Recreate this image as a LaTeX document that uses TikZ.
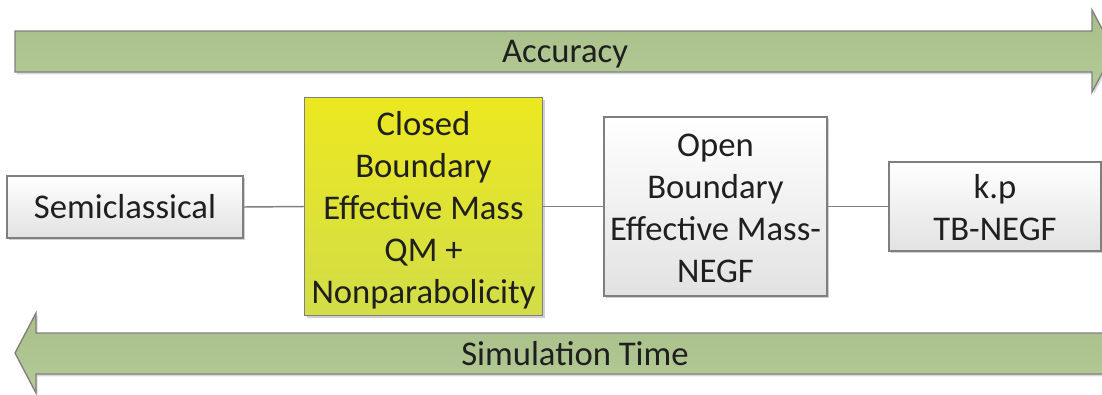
\documentclass[tikz,border=0pt]{standalone}
\usepackage{fontspec}
\setmainfont{Carlito}
\usetikzlibrary{shadows}
\definecolor{edgegray}{HTML}{7F7F7F}
\definecolor{txt}{HTML}{1F1F1F}
\definecolor{greentop}{HTML}{A8BF88}
\definecolor{greenbot}{HTML}{B4CA98}
\definecolor{yeltop}{HTML}{ECE820}
\definecolor{yelbot}{HTML}{D2DD48}
\definecolor{boxbot}{HTML}{E2E2E2}
\tikzset{
  stagebox/.style={draw=edgegray, line width=1pt, top color=white, bottom color=boxbot,
    inner sep=0pt,
    drop shadow={shadow xshift=1.8pt, shadow yshift=-1.8pt, fill=black!18, opacity=1}},
  hilite/.style={stagebox, top color=yeltop, bottom color=yelbot},
  stagetext/.style={align=center, text=txt, font=\fontsize{26}{31.5}\selectfont, inner sep=0pt},
  bigarrow/.style={draw=edgegray, line width=1pt, top color=greentop, bottom color=greenbot,
    drop shadow={shadow xshift=1.2pt, shadow yshift=-1.8pt, fill=black!15, opacity=1}},
  arrowlabel/.style={text=txt, font=\fontsize{26}{31.5}\selectfont, inner sep=0pt},
  link/.style={draw=edgegray, line width=1.1pt}
}
\begin{document}
\begin{tikzpicture}[x=0.75pt, y=-0.75pt]
\useasboundingbox (0,0) rectangle (1102,394);
\clip (0,0) rectangle (1102,394);

% accuracy arrow, pointing right
\path[bigarrow] (15,31) -- (1092,31) -- (1092,10) -- (1114,51) -- (1092,92) -- (1092,72) -- (15,72) -- cycle;
\node[arrowlabel] (acc) at (565,54) {Accuracy};

% simulation time arrow, pointing left
\path[bigarrow] (1115,333) -- (36,333) -- (36,313) -- (15,353) -- (36,393) -- (36,374) -- (1115,374) -- cycle;
\node[arrowlabel] (simt) at (575,354) {Simulation Time};

% model stages
\node[stagebox, minimum width=236pt*0.75, minimum height=62pt*0.75,
  label={[stagetext]center:Semiclassical}] (semi) at (125,207) {};
\node[hilite, minimum width=238pt*0.75, minimum height=218pt*0.75,
  label={[stagetext, yshift=-3pt]center:{Closed\\Boundary\\Effective Mass\\QM +\\Nonparabolicity}}]
  (closed) at (423.5,206.5) {};
\node[stagebox, minimum width=223pt*0.75, minimum height=179pt*0.75,
  label={[stagetext, yshift=-1.5pt]center:{Open\\Boundary\\Effective Mass-\\NEGF}}]
  (open) at (715.5,206.5) {};
\node[stagebox, minimum width=212pt*0.75, minimum height=89pt*0.75,
  label={[stagetext, yshift=-1pt]center:{k.p\\TB-NEGF}}]
  (kp) at (995,206.5) {};

% connectors
\draw[link] (semi.east) -- (closed.west);
\draw[link] (closed.east) -- (open.west);
\draw[link] (open.east) -- (kp.west);
\end{tikzpicture}
\end{document}
